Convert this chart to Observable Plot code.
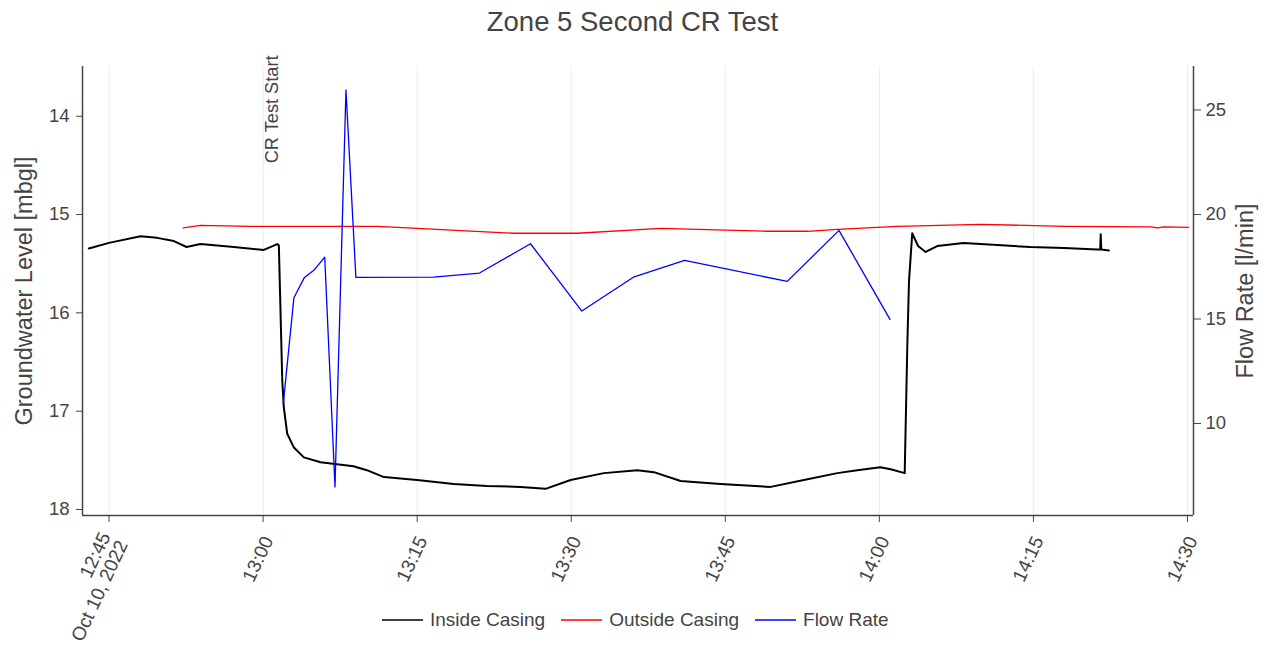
<!DOCTYPE html>
<html><head><meta charset="utf-8">
<script src="https://cdn.jsdelivr.net/npm/d3@7"></script>
<script src="https://cdn.jsdelivr.net/npm/@observablehq/plot@0.6"></script>
<style>
body{margin:0;background:#fff;font-family:"Liberation Sans",Arial,sans-serif;}
#wrap{position:relative;width:1265px;height:646px;overflow:hidden;}
#title{position:absolute;top:6px;left:0;width:1265px;text-align:center;font-size:27.5px;color:#444;line-height:32px;}
#legend{position:absolute;top:607px;left:382px;display:flex;align-items:center;font-size:19px;color:#444;line-height:26px;}
.item{display:flex;align-items:center;margin-right:16px;}
.sw{width:41px;height:0;border-top:2px solid;margin-right:7px;}
</style></head><body>
<div id="wrap"><div id="chart"></div><div id="title"></div><div id="legend"></div></div>
<script>
const chartTitle = "Zone 5 Second CR Test";
const day = "2022-10-10";
const yLeftLabel = "Groundwater Level [mbgl]";
const yRightLabel = "Flow Rate [l/min]";
const seriesNames = ["Inside Casing", "Outside Casing", "Flow Rate"];
const seriesColors = ["black", "red", "blue"];
const annotationTime = "13:00";
const annotationText = "CR Test Start";

const insideTimes = ["12:43:02","12:45:00","12:48:04","12:49:41","12:51:19","12:52:33","12:53:54","12:57:09","13:00:04","13:01:23","13:01:32","13:01:52","13:02:01","13:02:21","13:03:00","13:03:58","13:05:36","13:07:12","13:08:48","13:10:06","13:11:46","13:15:00","13:18:34","13:21:48","13:25:04","13:27:30","13:29:56","13:33:11","13:36:26","13:38:03","13:40:39","13:44:32","13:49:25","13:52:39","13:55:54","13:57:51","14:00:06","14:01:06","14:02:28","14:02:43","14:02:53","14:03:12","14:03:46","14:04:30","14:05:38","14:08:12","14:11:30","14:14:42","14:17:58","14:21:12","14:21:30","14:21:33","14:21:36","14:22:21"];
const insideLevels = [15.345,15.288,15.22,15.237,15.27,15.33,15.30,15.33,15.36,15.30,15.315,16.69,16.96,17.23,17.37,17.47,17.52,17.54,17.56,17.60,17.67,17.70,17.74,17.76,17.77,17.79,17.70,17.63,17.60,17.62,17.71,17.74,17.77,17.70,17.63,17.60,17.57,17.59,17.63,16.35,15.68,15.19,15.32,15.38,15.32,15.29,15.31,15.33,15.34,15.355,15.355,15.20,15.355,15.365];

const outsideTimes = ["12:52:13","12:53:54","12:58:47","13:11:06","13:15:00","13:24:24","13:30:36","13:38:42","13:49:06","13:53:00","13:55:54","14:01:45","14:09:54","14:18:00","14:26:24","14:27:06","14:27:42","14:30:06"];
const outsideLevels = [15.136,15.11,15.12,15.12,15.14,15.19,15.19,15.14,15.17,15.17,15.15,15.12,15.10,15.12,15.125,15.135,15.125,15.13];

const flowTimes = ["13:01:58","13:03:00","13:04:00","13:05:00","13:06:00","13:07:00","13:08:04","13:09:02","13:16:36","13:21:04","13:26:02","13:31:02","13:36:03","13:41:02","13:51:02","13:56:04","14:01:02"];
const flowRates = [10.95,16.02,16.97,17.36,17.96,6.97,25.96,16.99,17.0,17.2,18.6,15.38,17.0,17.8,16.8,19.24,14.98];

const levelTicks = [14, 15, 16, 17, 18];
const flowTicks = [10, 15, 20, 25];
const xTickTimes = ["12:45","13:00","13:15","13:30","13:45","14:00","14:15","14:30"];
const xRange = ["12:42:25", "14:30:35"];
const levelRange = [13.494, 18.061];   // top, bottom
const flowRange = [27.08, 5.60];       // top, bottom

const T = s => new Date(`${day}T${s.length === 5 ? s + ":00" : s}Z`);
const inside = insideTimes.map((t, i) => ({t: T(t), v: insideLevels[i]}));
const outside = outsideTimes.map((t, i) => ({t: T(t), v: outsideLevels[i]}));
const flow = flowTimes.map((t, i) => ({t: T(t), v: flowRates[i]}));
const xTicks = xTickTimes.map(T);
const xDomain = xRange.map(T);
const flowToLevel = d3.scaleLinear().domain(flowRange).range(levelRange);

const fmtTime = d3.utcFormat("%H:%M"), fmtDate = d3.utcFormat("%b %-d, %Y");
const axisColor = "#444";

const chart = Plot.plot({
  width: 1265, height: 646,
  marginTop: 66, marginBottom: 131, marginLeft: 82, marginRight: 72,
  style: {fontFamily: '"Liberation Sans", Arial, sans-serif', color: axisColor, background: "white", fontSize: "18px"},
  x: {type: "utc", domain: xDomain},
  y: {domain: [levelRange[0], levelRange[1]], reverse: true},
  marks: [
    Plot.gridX(xTicks, {stroke: "#ebebeb", strokeOpacity: 1, strokeWidth: 1}),
    Plot.line(outside, {x: "t", y: "v", stroke: seriesColors[1], strokeWidth: 1.3}),
    Plot.line(inside, {x: "t", y: "v", stroke: seriesColors[0], strokeWidth: 2}),
    Plot.line(flow, {x: "t", y: d => flowToLevel(d.v), stroke: seriesColors[2], strokeWidth: 1.3}),
    Plot.ruleX([xDomain[0]], {stroke: axisColor, strokeWidth: 1.5}),
    Plot.ruleX([xDomain[1]], {stroke: axisColor, strokeWidth: 1.5}),
    Plot.ruleY([levelRange[1]], {stroke: axisColor, strokeWidth: 1.5}),
    Plot.axisY(levelTicks, {anchor: "left", tickSize: 6, tickPadding: 7, label: null, fontSize: 18.5, tickFormat: d => String(d)}),
    Plot.axisY(flowTicks.map(f => flowToLevel(f)), {anchor: "right", tickSize: 7, tickPadding: 5, label: null, fontSize: 18.5, tickFormat: d => String(Math.round(flowToLevel.invert(d)))}),
    Plot.axisX(xTicks, {anchor: "bottom", tickSize: 7, tickPadding: 0, label: null, tickFormat: () => ""}),
    Plot.axisX(xTicks, {anchor: "bottom", tickSize: 0, tickPadding: 22, tickRotate: -65, label: null, fontSize: 19, dx: 5,
      tickFormat: (d, i) => i === 0 ? `${fmtTime(d)}\n${fmtDate(d)}` : fmtTime(d)}),
    Plot.text([yLeftLabel], {text: d => d, frameAnchor: "left", textAnchor: "middle", lineAnchor: "middle", rotate: -90, dx: -58, fontSize: 23.5, fill: axisColor}),
    Plot.text([yRightLabel], {text: d => d, frameAnchor: "right", textAnchor: "middle", lineAnchor: "middle", rotate: -90, dx: 52, fontSize: 23.5, fill: axisColor}),
    Plot.text([annotationText], {x: T(annotationTime), text: d => d, frameAnchor: "top", rotate: -90, textAnchor: "end", lineAnchor: "middle", dx: 9, dy: -11, fontSize: 18.2, fill: axisColor})
  ]
});
document.getElementById("chart").appendChild(chart);
document.getElementById("title").textContent = chartTitle;
const legend = document.getElementById("legend");
seriesNames.forEach((n, i) => {
  const it = document.createElement("div"); it.className = "item";
  const sw = document.createElement("div"); sw.className = "sw"; sw.style.borderTopColor = seriesColors[i]; sw.style.opacity = 0.75;
  const lb = document.createElement("span"); lb.textContent = n;
  it.appendChild(sw); it.appendChild(lb); legend.appendChild(it);
});
</script>
</body></html>
